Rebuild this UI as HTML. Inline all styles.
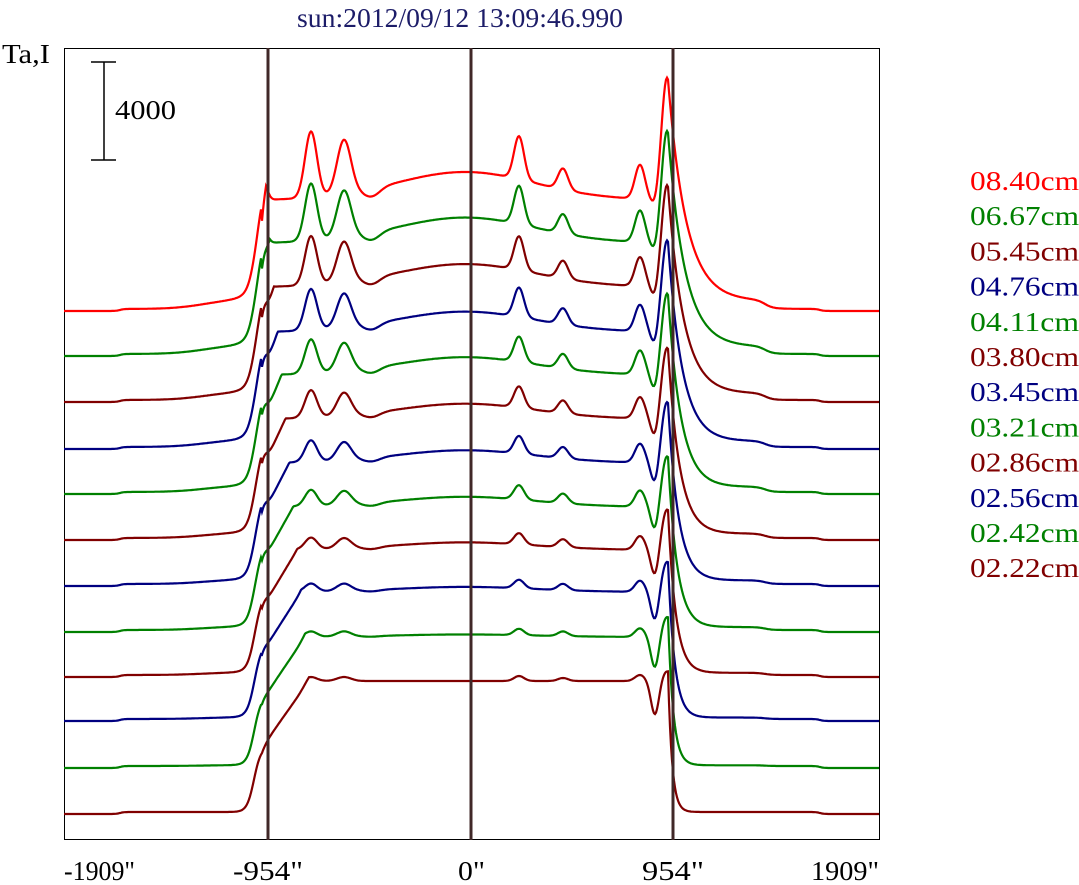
<!DOCTYPE html>
<html><head><meta charset="utf-8"><style>
body{margin:0;background:#fff;width:1079px;height:885px;overflow:hidden}
svg{display:block}
text{font-family:"Liberation Serif",serif;font-size:27px}
</style></head><body>
<svg id="s" width="1079" height="885" xmlns="http://www.w3.org/2000/svg">
<rect x="64.5" y="48.5" width="815" height="791" fill="none" stroke="#000" stroke-width="1"/>
<text x="297" y="27" textLength="326" lengthAdjust="spacingAndGlyphs" fill="#1c1c68">sun:2012/09/12 13:09:46.990</text>
<text x="2" y="63" textLength="48" lengthAdjust="spacingAndGlyphs" fill="#000">Ta,I</text>
<line x1="104" y1="62" x2="104" y2="160" stroke="#000" stroke-width="1.5"/>
<line x1="91" y1="62" x2="116" y2="62" stroke="#000" stroke-width="1.5"/>
<line x1="91" y1="160" x2="116" y2="160" stroke="#000" stroke-width="1.5"/>
<text x="115" y="119" textLength="61" lengthAdjust="spacingAndGlyphs" fill="#000">4000</text>
<text x="64" y="880" textLength="71" lengthAdjust="spacingAndGlyphs" fill="#000">-1909"</text>
<text x="233" y="880" textLength="70" lengthAdjust="spacingAndGlyphs" fill="#000">-954"</text>
<text x="458" y="880" textLength="27" lengthAdjust="spacingAndGlyphs" fill="#000">0"</text>
<text x="642" y="880" textLength="62" lengthAdjust="spacingAndGlyphs" fill="#000">954"</text>
<text x="811" y="880" textLength="68" lengthAdjust="spacingAndGlyphs" fill="#000">1909"</text>
<g id="curves"></g>
<line x1="268" y1="48" x2="268" y2="840" stroke="#402828" stroke-width="3"/>
<line x1="471" y1="48" x2="471" y2="840" stroke="#402828" stroke-width="3"/>
<line x1="673" y1="48" x2="673" y2="840" stroke="#402828" stroke-width="3"/>
<g id="leg"></g>
</svg>
<script>
var cols=["#ff0000","#008000","#800000","#000080"];
var names=["08.40cm","06.67cm","05.45cm","04.76cm","04.11cm","03.80cm","03.45cm","03.21cm","02.86cm","02.56cm","02.42cm","02.22cm"];
var bases=[311,356,402,449,494,540,586,632,677,721,768,814];
function L(z){return 1/(1+Math.exp(-z));}
function G(x,c,w){return Math.exp(-(x-c)*(x-c)/(2*w*w));}
function halo(x,t){var u=1-t;
  return 8*u*L((x-200)/15)*L((765-x)/4)+2*L((x-120)/2)*L((820-x)/2);}
function core(x,t){
  var u=1-t;
  var steep=L((x-254)/3.5);
  var ramp=Math.min(1,Math.max(0,(x-262)/(43*t+4)));
  var Pl=131-30*u+28*u*G(x,465,70);
  var p=steep*(65+(Pl-65)*ramp);
  var pk=0;
  pk+=22*u*G(x,263,4);
  pk+=(62*Math.pow(u,1.6)+4)*G(x,311,6);
  pk+=(50*Math.pow(u,1.6)+4)*G(x,344,7);
  pk+=-8*u*G(x,372,8);
  pk+=(38*Math.pow(u,1.4)+5)*G(x,519,5);
  pk+=(18*u+3)*G(x,563,5);
  pk+=(28*u+6)*G(x,640,5);
  pk+=-(8+26*t)*G(x,655,4);
  pk+=(112*u+10)*G(x,667,5.5);
  var lw=(x<262)?16*u*Math.exp((x-262)/16):0;
  return p+pk+lw;
}
function h(x,t){
  var u=1-t;
  if(x<=668) return core(x,t)+halo(x,t);
  var v=core(668,t);
  return v*Math.exp(-(x-668)/(4+14*u))+halo(x,t);
}
var g=document.getElementById('curves'),out='';
for(var i=0;i<12;i++){
  var t=i/11,d='';
  for(var x=64;x<=879;x++){
    var y=bases[i]-h(x,t);
    d+=(x==64?'M':'L')+x+' '+y.toFixed(1);
  }
  var c=i==0?cols[0]:cols[1+((i-1)%3)];
  out+='<path d="'+d+'" fill="none" stroke="'+c+'" stroke-width="2.2"/>';
}
g.innerHTML=out;
var lg='';
for(var i=0;i<12;i++){
  var c=i==0?cols[0]:cols[1+((i-1)%3)];
  lg+='<text x="970" y="'+(190+i*35.2).toFixed(1)+'" textLength="109" lengthAdjust="spacingAndGlyphs" fill="'+c+'">'+names[i]+'</text>';
}
document.getElementById('leg').innerHTML=lg;
</script>
</body></html>
